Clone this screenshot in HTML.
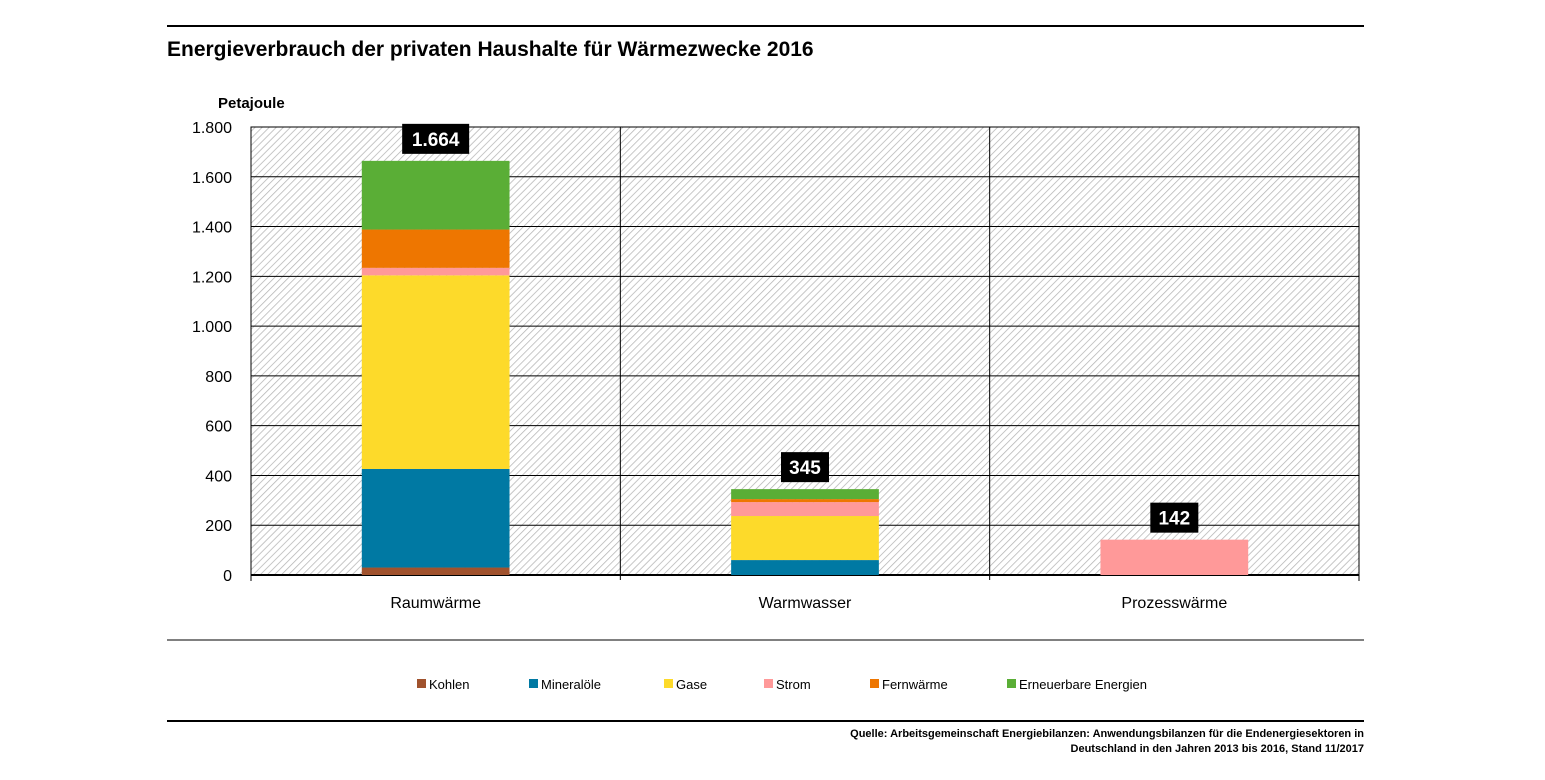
<!DOCTYPE html>
<html><head><meta charset="utf-8"><style>
body{margin:0;background:#fff;width:1545px;height:775px;overflow:hidden;font-family:"Liberation Sans",sans-serif}
svg text{font-family:"Liberation Sans",sans-serif}
</style></head><body>
<svg id="c" width="1545" height="775" xmlns="http://www.w3.org/2000/svg">
<defs><pattern id="h" width="5" height="5" patternUnits="userSpaceOnUse" patternTransform="rotate(45)"><rect width="5" height="5" fill="#fff"/><line x1="0" y1="0" x2="0" y2="5" stroke="#b4b4b4" stroke-width="1.5"/></pattern></defs>
<line x1="167" y1="26" x2="1364" y2="26" stroke="#000" stroke-width="2"/>
<text x="167" y="56" font-size="21" font-weight="bold">Energieverbrauch der privaten Haushalte für Wärmezwecke 2016</text>
<text x="218" y="108" font-size="15" font-weight="bold">Petajoule</text>
<rect x="251" y="127" width="1108" height="448" fill="url(#h)" stroke="#000"/>
<g id="grid"></g><g id="bars"></g><g id="labels"></g>
<line x1="167" y1="640" x2="1364" y2="640" stroke="#000"/>
<g id="legend"></g>
<line x1="167" y1="721" x2="1364" y2="721" stroke="#000" stroke-width="2"/>
<text x="1364" y="737" font-size="11" font-weight="bold" text-anchor="end">Quelle: Arbeitsgemeinschaft Energiebilanzen: Anwendungsbilanzen für die Endenergiesektoren in</text>
<text x="1364" y="752" font-size="11" font-weight="bold" text-anchor="end">Deutschland in den Jahren 2013 bis 2016, Stand 11/2017</text>
</svg>
<script>
const categories=["Raumwärme","Warmwasser","Prozesswärme"];
const seriesNames=["Kohlen","Mineralöle","Gase","Strom","Fernwärme","Erneuerbare Energien"];
const seriesColors=["#a0522d","#0079a3","#fdda2a","#ff9999","#ee7600","#5aae36"];
const kohlen=[30,0,0];
const mineraloele=[396,60,0];
const gase=[778,177,0];
const strom=[30,56,142];
const fernwaerme=[154,12,0];
const erneuerbare=[276,40,0];
const totals=[1664,345,142];
const yTicks=[0,200,400,600,800,1000,1200,1400,1600,1800];
const yTickLabels=["0","200","400","600","800","1.000","1.200","1.400","1.600","1.800"];
const series=[kohlen,mineraloele,gase,strom,fernwaerme,erneuerbare];
const NS="http://www.w3.org/2000/svg";
const X0=251,X1=1359,Y0=575,Y1=127,YMAX=1800;
const y=v=>Y0-(v/YMAX)*(Y0-Y1);
const cw=(X1-X0)/categories.length;
const xc=i=>X0+cw*(i+0.5);
function mk(t,a,p){const e=document.createElementNS(NS,t);for(const k in a)e.setAttribute(k,a[k]);p.appendChild(e);return e;}
const grid=document.getElementById('grid');
yTicks.forEach((t,i)=>{
 if(t>0&&t<YMAX){const l=mk('line',{x1:X0,x2:X1,y1:y(t),y2:y(t),stroke:'#000','stroke-width':1},grid);
 
 }
 const tx=mk('text',{x:232,y:y(t)+6,'font-size':16,'text-anchor':'end'},grid);tx.textContent=yTickLabels[i];
 
 
});
for(let i=1;i<categories.length;i++){const l=mk('line',{x1:X0+cw*i,x2:X0+cw*i,y1:Y1,y2:Y0+5,stroke:'#000'},grid);
 
 }
const ax=mk('line',{x1:X0,x2:X1,y1:Y0,y2:Y0,stroke:'#000','stroke-width':2},grid);


[0,3].forEach(i=>{const l=mk('line',{x1:X0+cw*i,x2:X0+cw*i,y1:Y0,y2:Y0+6,stroke:'#000'},grid);
 
 });
const bars=document.getElementById('bars'),labels=document.getElementById('labels');
const bw=cw*0.4;
categories.forEach((c,i)=>{
 let acc=0;
 series.forEach((s,j)=>{const v=s[i];if(v<=0)return;
  const r=mk('rect',{x:xc(i)-bw/2,y:y(acc+v),width:bw,height:y(acc)-y(acc+v),fill:seriesColors[j]},bars);
  
  
  acc+=v;});
 const ty=y(totals[i]);
 const w=String(totals[i]).length>3?67:48;
 const bx=mk('rect',{x:xc(i)-w/2,y:ty-37,width:w,height:30,fill:'#000'},labels);
 
 
 const tt=mk('text',{x:xc(i),y:ty-15,'font-size':19,'font-weight':'bold',fill:'#fff','text-anchor':'middle'},labels);
 tt.textContent=totals[i].toLocaleString('de-DE');
 
 
 const cl=mk('text',{x:xc(i),y:608,'font-size':16,'text-anchor':'middle'},labels);cl.textContent=c;
 
 
});
const lg=document.getElementById('legend');
const lx=[417,529,664,764,870,1007];
seriesNames.forEach((n,j)=>{
 const g=mk('g',{},lg);
 
 
 mk('rect',{x:lx[j],y:679,width:9,height:9,fill:seriesColors[j]},g);
 const t=mk('text',{x:lx[j]+12,y:689,'font-size':13},g);t.textContent=n;
});
</script>
</body></html>
